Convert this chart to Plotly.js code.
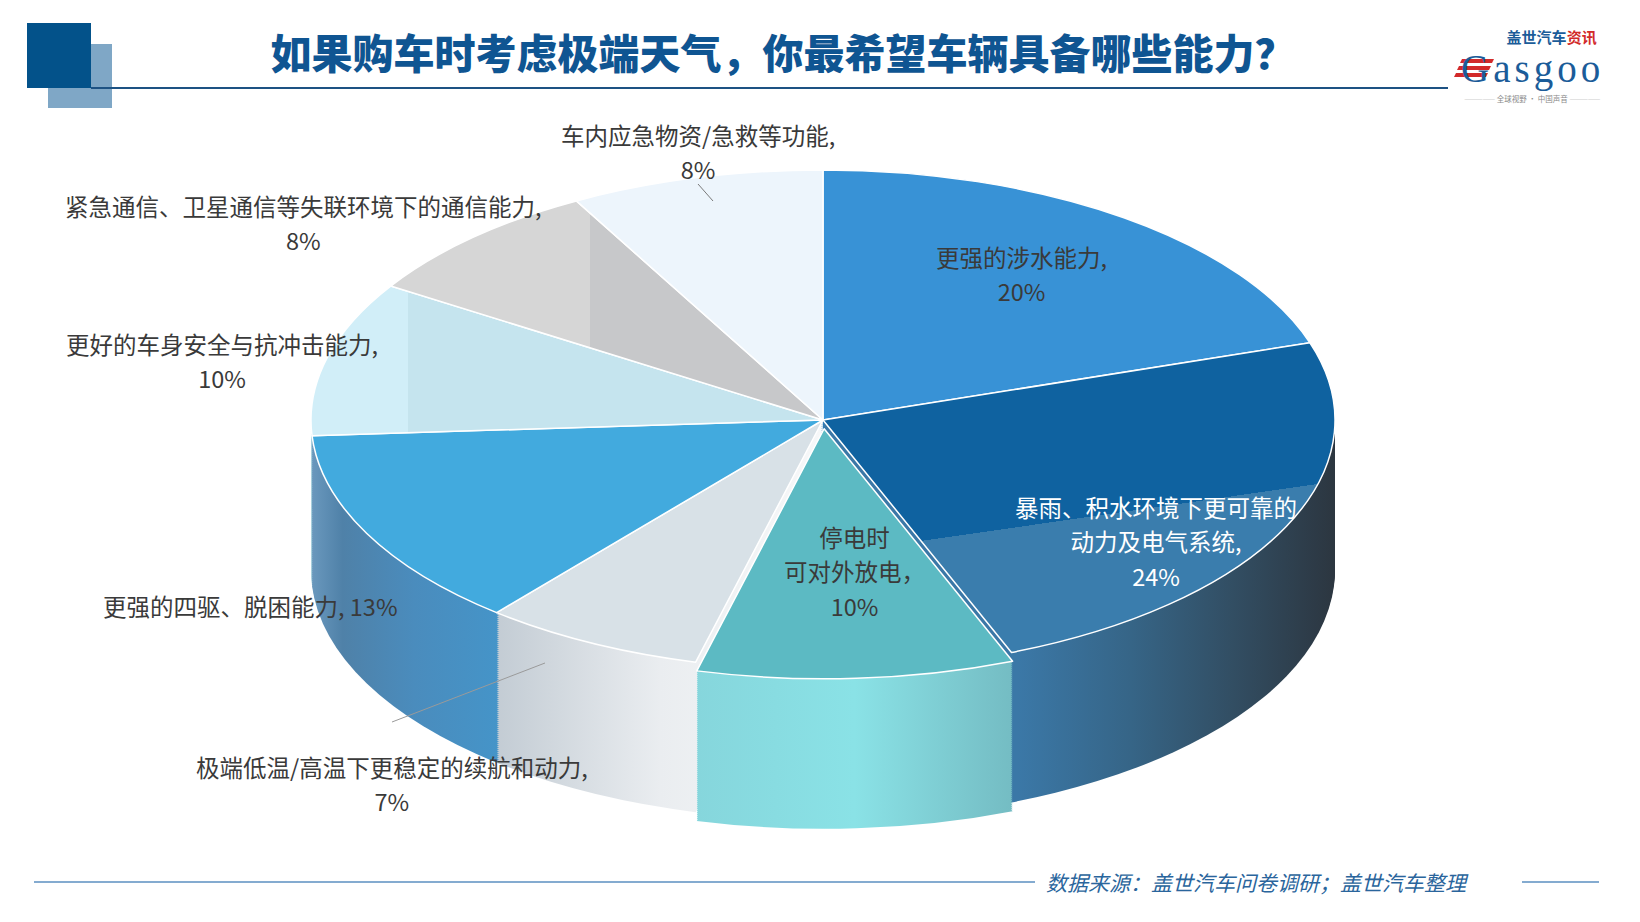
<!DOCTYPE html>
<html><head><meta charset="utf-8">
<script src="https://cdn.plot.ly/plotly-3.0.1.min.js"></script>
<style>html,body{margin:0;padding:0;background:#fff;overflow:hidden}</style>
</head><body><div id="chart" style="width:1640px;height:922px"></div>
<script>
// ---------------- data ----------------
const categories = ['更强的涉水能力', '暴雨、积水环境下更可靠的动力及电气系统', '停电时可对外放电', '极端低温/高温下更稳定的续航和动力', '更强的四驱、脱困能力', '更好的车身安全与抗冲击能力', '紧急通信、卫星通信等失联环境下的通信能力', '车内应急物资/急救等功能'];
const values = [20, 24, 10, 7, 13, 10, 8, 8];
const labelText = ['更强的涉水能力,', '暴雨、积水环境下更可靠的<br>动力及电气系统,', '停电时<br>可对外放电，', '极端低温/高温下更稳定的续航和动力,', '更强的四驱、脱困能力,', '更好的车身安全与抗冲击能力,', '紧急通信、卫星通信等失联环境下的通信能力,', '车内应急物资/急救等功能,'];
const labelJoin = ['<br>', '<br>', '<br>', '<br>', ' ', '<br>', '<br>', '<br>'];
const titleText = '如果购车时考虑极端天气，你最希望车辆具备哪些能力？';
const sourceText = '数据来源：盖世汽车问卷调研；盖世汽车整理';
const logoTop = '盖世汽车';
const logoTopRed = '资讯';
const logoName = 'Gasgoo';
const logoTagline = '全球视野 · 中国声音';

// ---------------- styles / geometry ----------------
const W = 1640, H = 922;
const CX = 823, CY = 420, RX = 512, RY = 250, DEPTH = 150, STEP = 2;
const pulls = [0, 0, 0.035, 0, 0, 0, 0, 0];
const topColors = ['#3892d6', '#0f62a0', '#5cbac3', '#d8e1e7', '#42aade', '#c6e6f0', '#cfd0d2', '#edf5fc'];
const sideColors = ['#2a7bbf', '#34668d', '#84d8de', '#dde3e8', '#4a8fc0', '#a9cfdd', '#b5b6b8', '#d8e2ea'];
const labelPos = [[1021, 274], [1156, 541], [854, 571], [392, 784], [250, 606], [222, 361], [303, 223], [698, 152]];
const labelColor = ['#3a3a3a', '#ffffff', '#3a3a3a', '#3a3a3a', '#3a3a3a', '#3a3a3a', '#3a3a3a', '#3a3a3a'];
const FONT = '"Noto Sans CJK SC", "Noto Sans", sans-serif';
const LABEL_SIZE = 23.5, LABEL_LINE_BASE = 26.4;

const px = x => x / W, py = y => 1 - y / H;
const dom = {x: [px(CX - 250), px(CX + 250)], y: [py(CY + 250), py(CY - 250)]};

function pieTrace(colors, lineW) {
  return {
    type: 'pie', values: values, labels: categories, sort: false, direction: 'clockwise', rotation: 0,
    pull: pulls, domain: dom, textinfo: 'none', hoverinfo: 'skip', showlegend: false,
    marker: {colors: colors, line: {color: '#ffffff', width: lineW}}
  };
}

const traces = [], offsets = [];
const N = Math.round(DEPTH / STEP);
for (let k = N; k >= 1; k--) { traces.push(pieTrace(sideColors, 0)); offsets.push(k * STEP); }
traces.push(pieTrace(topColors, 1.5)); offsets.push(0);

const annotations = categories.map((c, i) => {
  const full = labelText[i] + labelJoin[i] + values[i] + '%';
  const text = full.split('<br>').map(l => '<span style="font-size:' + LABEL_SIZE + 'px">' + l + '</span>').join('<br>');
  return {
    xref: 'paper', yref: 'paper', x: px(labelPos[i][0]), y: py(labelPos[i][1]),
    xanchor: 'center', yanchor: 'middle', showarrow: false, align: 'center',
    text: text, font: {family: FONT, size: LABEL_LINE_BASE, color: labelColor[i]}
  };
});

// footer source
annotations.push({xref: 'paper', yref: 'paper', x: px(1257), y: py(882), xanchor: 'center', yanchor: 'middle', showarrow: false,
  text: sourceText, font: {family: FONT, size: 21, color: '#2a659c', style: 'italic'}});
// logo (one text block, lines spaced so they do not collide)
annotations.push({xref: 'paper', yref: 'paper', x: px(1606), y: py(24), xanchor: 'right', yanchor: 'top', showarrow: false, align: 'right',
  text: '<span style="font-size:15px"><b>' + logoTop + '<span style="color:#d22a2a">' + logoTopRed + '</span></b>\u2002</span><br>\u00a0<br>\u00a0<br>\u00a0<br>' +
        '<span style="font-size:39px;letter-spacing:4px;font-family:Liberation Serif,serif">' + logoName + '</span><br>\u00a0<br>' +
        '<span style="color:#cfcfcf">————— </span><span style="color:#8a8a8a">' + logoTagline + '</span><span style="color:#cfcfcf"> —————</span>\u2002',
  font: {family: FONT, size: 7.5, color: '#1b5c99'}});

function rect(x0, y0, x1, y1, color) {
  return {type: 'rect', xref: 'paper', yref: 'paper', x0: px(x0), x1: px(x1), y0: py(y1), y1: py(y0), fillcolor: color, line: {width: 0}, layer: 'above'};
}
function line(x0, y0, x1, y1, color, w) {
  return {type: 'line', xref: 'paper', yref: 'paper', x0: px(x0), x1: px(x1), y0: py(y0), y1: py(y1), line: {color: color, width: w}, layer: 'above'};
}
function poly(pts, color) {
  const d = pts.map((p, i) => (i ? 'L' : 'M') + px(p[0]) + ',' + py(p[1])).join(' ') + ' Z';
  return {type: 'path', xref: 'paper', yref: 'paper', path: d, fillcolor: color, line: {width: 0}, layer: 'above'};
}

const shapes = [
  rect(48, 44, 112, 108, '#7fa7c6'),
  rect(27, 23, 91, 88, '#03528a'),
  line(91, 88, 1448, 88, '#1d5283', 2),
  line(34, 882, 1035, 882, '#5b8fc0', 1.5),
  line(1522, 882, 1599, 882, '#5b8fc0', 1.5),
  // leader lines
  line(392, 722, 545, 663, '#9a9a9a', 1),
  line(698, 184, 713, 201, '#7a7a7a', 1),
  // logo stripes
  poly([[1462, 59], [1494, 59], [1492, 63], [1460, 63]], '#d22a2a'),
  poly([[1459, 66], [1491, 66], [1489, 70], [1457, 70]], '#d22a2a'),
  poly([[1456, 73], [1488, 73], [1486, 77], [1454, 77]], '#d22a2a')
];

const layout = {
  width: W, height: H, margin: {l: 0, r: 0, t: 0, b: 0},
  paper_bgcolor: '#ffffff', plot_bgcolor: '#ffffff', showlegend: false,
  title: {text: titleText, x: px(783), y: py(55), xref: 'paper', yref: 'container', xanchor: 'center', yanchor: 'middle',
    font: {family: FONT, size: 41, color: '#0f5592', weight: 900}},
  annotations: annotations, shapes: shapes
};

function addGradient(svg, id, vec, stops) {
  const ns = 'http://www.w3.org/2000/svg';
  let defs = svg.querySelector('defs');
  if (!defs) { defs = document.createElementNS(ns, 'defs'); svg.insertBefore(defs, svg.firstChild); }
  const g = document.createElementNS(ns, 'linearGradient');
  g.setAttribute('id', id);
  g.setAttribute('x1', vec[0]); g.setAttribute('y1', vec[1]); g.setAttribute('x2', vec[2]); g.setAttribute('y2', vec[3]);
  stops.forEach(s => {
    const st = document.createElementNS(ns, 'stop');
    st.setAttribute('offset', s[0]); st.setAttribute('stop-color', s[1]);
    g.appendChild(st);
  });
  defs.appendChild(g);
}

const gd = document.getElementById('chart');
Plotly.newPlot(gd, traces, layout, {staticPlot: true, displayModeBar: false}).then(() => {
  const svg = gd.querySelector('.main-svg');
  addGradient(svg, 'gTop24', [0, 0, 0.216, 0.91], [[0, '#0f62a0'], [0.713, '#0f62a0'], [0.713, '#3a7dad'], [1, '#3a7dad']]);
  addGradient(svg, 'gTop8', [0, 0, 1, 0], [[0, '#d6d6d6'], [0.46, '#d6d6d6'], [0.46, '#c7c8ca'], [1, '#c7c8ca']]);
  addGradient(svg, 'gTop10b', [0, 0, 1, 0], [[0, '#d1eef8'], [0.19, '#d1eef8'], [0.19, '#c5e4ee'], [1, '#c5e4ee']]);
  addGradient(svg, 'gSide24', [0, 0, 1, 0], [[0.38, '#3b78a7'], [0.6, '#366587'], [0.8, '#324e63'], [1, '#2c3640']]);
  addGradient(svg, 'gSide7', [0, 0, 1, 0], [[0, '#c3ccd4'], [0.5, '#eaedf0'], [1, '#f7f8f9']]);
  addGradient(svg, 'gSide13', [0, 0, 1, 0], [[0, '#6a98bd'], [0.06, '#4f81a8'], [0.2, '#4a8cbd'], [0.36, '#4594c8'], [1, '#4594c8']]);
  addGradient(svg, 'gSide10', [0, 0, 1, 0], [[0, '#86d6dc'], [0.5, '#8ae2e6'], [1, '#74bcc3']]);
  const sideFills = {1: 'url(#gSide24)', 2: 'url(#gSide10)', 3: 'url(#gSide7)', 4: 'url(#gSide13)'};
  const topFills = {1: 'url(#gTop24)', 5: 'url(#gTop10b)', 6: 'url(#gTop8)'};
  const groups = gd.querySelectorAll('.pielayer .trace');
  groups.forEach((g, i) => {
    const cd0 = gd.calcdata[i][0];
    const sx = RX / cd0.r, sy = RY / cd0.r;
    g.setAttribute('transform', 'translate(' + cd0.cx + ',' + (cd0.cy + offsets[i]) + ') scale(' + sx + ',' + sy + ') translate(' + (-cd0.cx) + ',' + (-cd0.cy) + ')');
    const isTop = offsets[i] === 0;
    g.querySelectorAll('.slice').forEach((s, j) => {
      const p = s.querySelector('path');
      if (!p) return;
      p.style.vectorEffect = 'non-scaling-stroke';
      const f = isTop ? topFills[j] : sideFills[j];
      if (f) p.style.fill = f;
    });
  });
});
</script></body></html>
